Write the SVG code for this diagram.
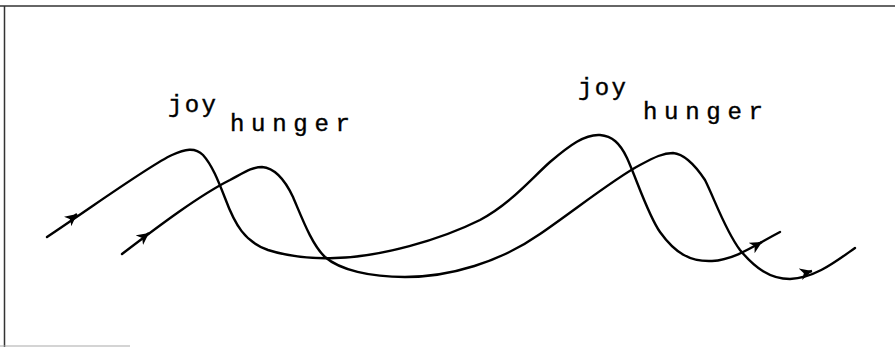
<svg xmlns="http://www.w3.org/2000/svg" width="895" height="348" viewBox="0 0 895 348">
<style>
.curve{fill:none;stroke:#000;stroke-width:2.4;stroke-linecap:round;stroke-linejoin:round}
.tick{fill:none;stroke:#000;stroke-width:2.4;marker-end:url(#ah)}
.lbl{font-family:"Liberation Mono","DejaVu Sans Mono",monospace;font-size:24px;fill:#000;stroke:#000;stroke-width:0.4}
.frame{fill:none;stroke:#333;stroke-width:1.5}
</style>
<defs>
<marker id="ah" markerWidth="16" markerHeight="14" refX="12" refY="6" orient="auto" markerUnits="userSpaceOnUse">
<path d="M12,6 L0,0 L3.5,6 L0,12 Z" fill="#000"/>
</marker>
</defs>
<rect width="895" height="348" fill="#fff"/>
<g id="frame">
<line class="frame" x1="0" y1="6" x2="895" y2="6"/>
<line class="frame" x1="4.5" y1="6" x2="4.5" y2="347"/>
<line x1="0" y1="346" x2="130" y2="346" stroke="#aaa" stroke-width="1.2"/>
</g>
<g id="joy-curve">
<path class="curve" d="M47,237 C95,205 150,165 172,155 C185,149 195,147 203,155 C212,165 218,180 225,198 C235,225 245,242 268,250 C290,257 310,259 335,258 C380,257 440,240 480,220 C510,204 530,180 550,162 C570,145 585,134 600,135 C612,136 620,143 627,158 C637,180 648,215 660,232 C675,253 690,262 712,261 C735,260 755,245 780,232"/>
</g>
<g id="hunger-curve">
<path class="curve" d="M122,254 C160,225 200,195 230,180 C245,172 252,167 262,167 C275,168 285,180 293,197 C302,218 312,245 325,257 C340,270 370,277 405,277 C450,277 500,262 540,234 C575,210 615,178 640,165 C655,157 663,153 673,153 C685,154 695,165 705,180 C715,200 725,230 740,250 C755,268 770,279 790,279 C815,278 835,262 855,248"/>
</g>
<g id="connectors">
<path class="tick" d="M70,219.5 L77,214"/>
<path class="tick" d="M143,237.5 L149,233"/>
<path class="tick" d="M755,246 L762,242"/>
<path class="tick" d="M805,273 L812,271"/>
</g>
<g id="label-joy-1"><text class="lbl" x="168" y="112" textLength="48" lengthAdjust="spacing">joy</text></g>
<g id="label-hunger-1"><text class="lbl" x="230" y="131" textLength="120" lengthAdjust="spacing">hunger</text></g>
<g id="label-joy-2"><text class="lbl" x="578" y="95" textLength="48" lengthAdjust="spacing">joy</text></g>
<g id="label-hunger-2"><text class="lbl" x="643" y="119" textLength="120" lengthAdjust="spacing">hunger</text></g>
</svg>
